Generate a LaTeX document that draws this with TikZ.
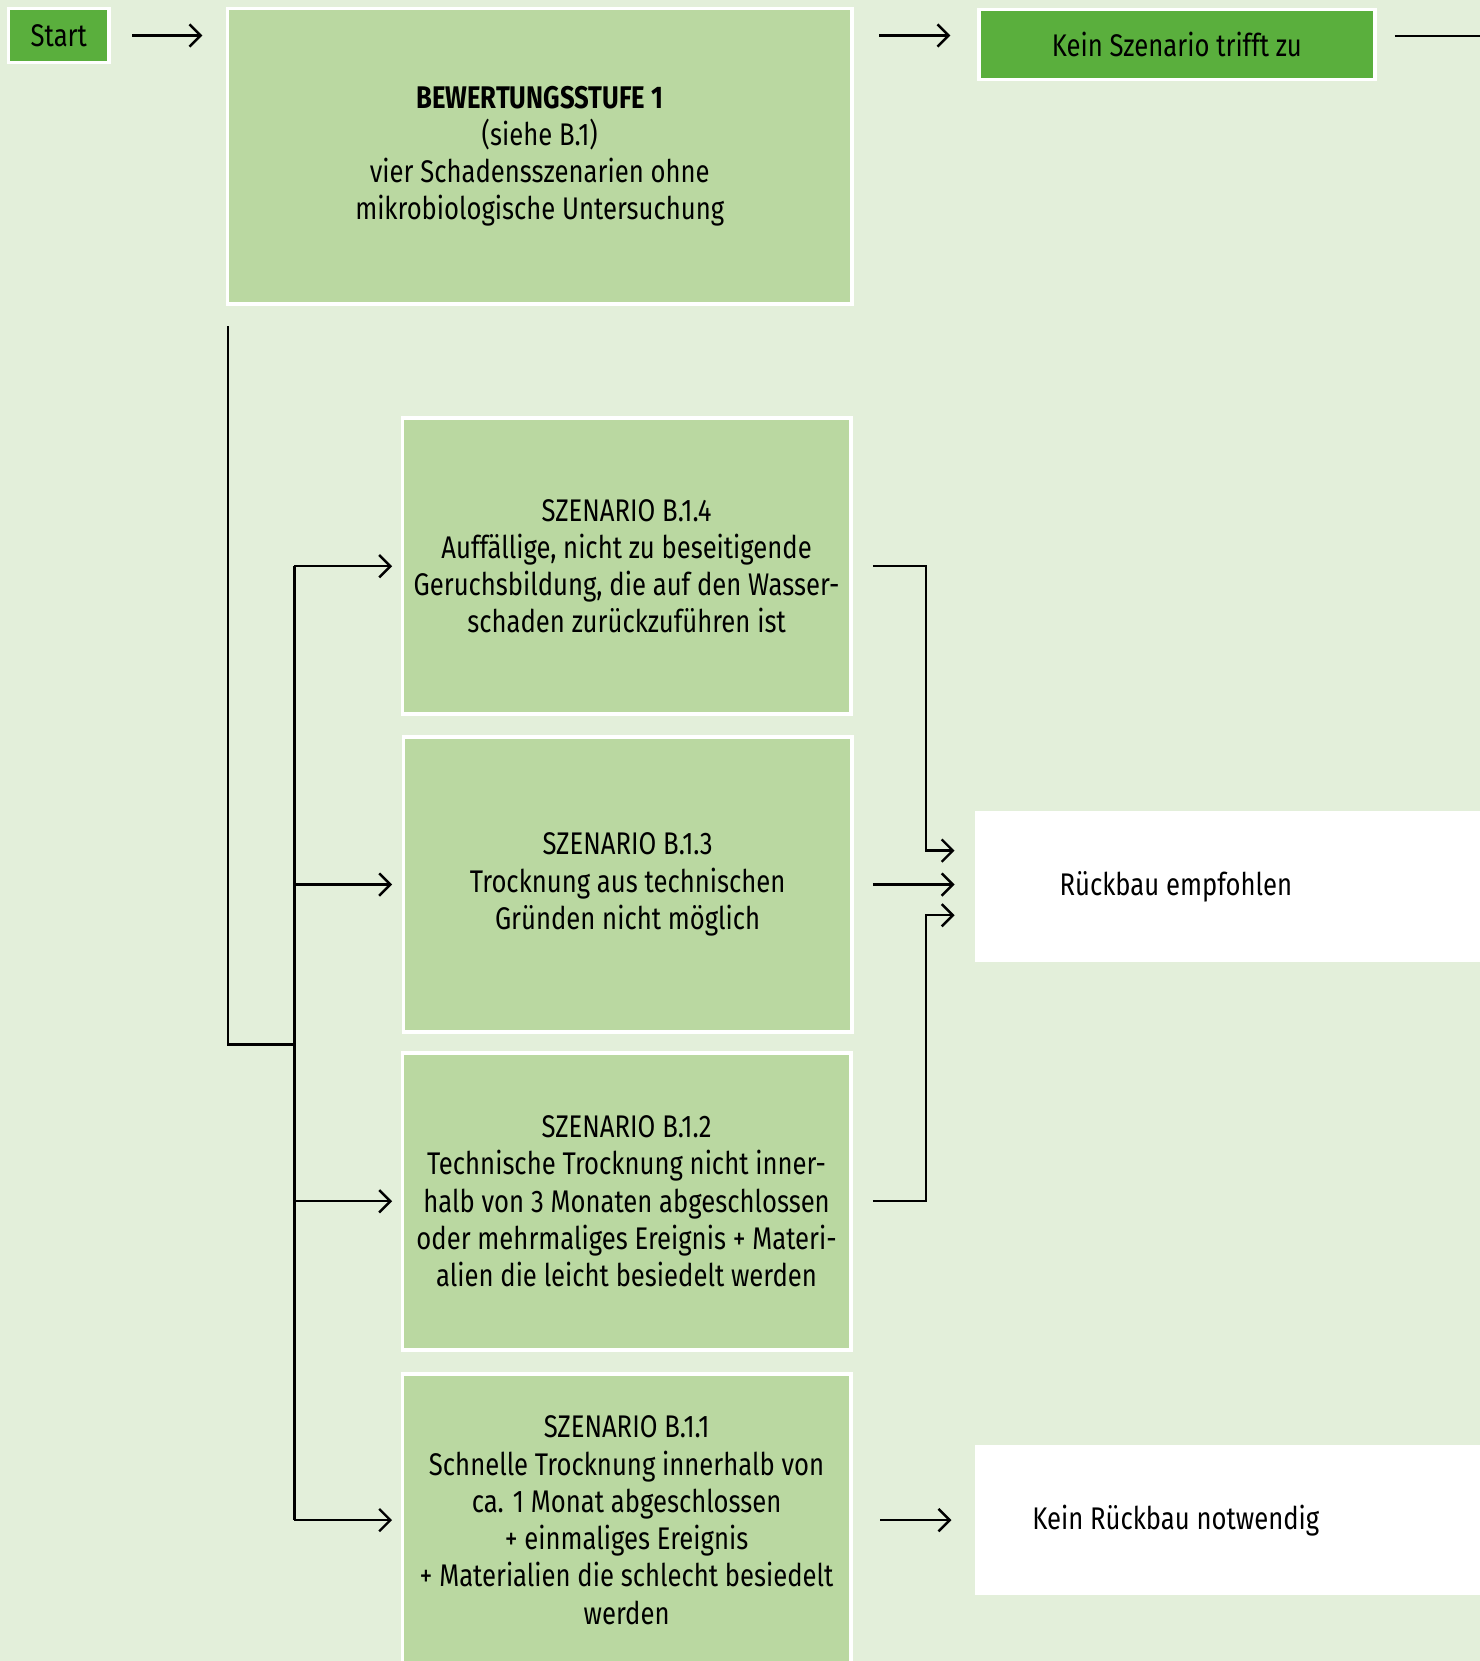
\documentclass[tikz,border=0pt]{standalone}
\usepackage{fontspec}
\setmainfont{Fira Sans}[FakeStretch=0.82]
\usetikzlibrary{arrows.meta}
\definecolor{bgc}{HTML}{E3EFDA}
\definecolor{boxc}{HTML}{BAD8A1}
\definecolor{darkc}{HTML}{5AAF3D}
\tikzset{
  box/.style={draw=white, line width=1pt, fill=boxc, align=center, inner sep=0pt,
    font=\fontsize{8.4}{10}\selectfont},
  darkbox/.style={draw=white, line width=1pt, fill=darkc, align=center, inner sep=0pt,
    font=\fontsize{8.4}{10}\selectfont},
  wbox/.style={fill=white, draw=none, align=center, inner sep=0pt,
    font=\fontsize{8.4}{10}\selectfont},
  wtext/.style={label={[font=\fontsize{8.4}{10}\selectfont, xshift=-0.505cm]center:#1}},
  conn/.style={line width=0.65pt, black},
  arr/.style={conn, -{Straight Barb[length=3pt,width=6pt]}},
}
\begin{document}
\begin{tikzpicture}[x=0.01cm, y=-0.01cm]
\clip (0,0) rectangle (1397,1568);
\fill[bgc] (0,0) rectangle (1397,1568);
% top row
\node[darkbox, minimum width=0.95cm, minimum height=0.51cm] (start) at (55.5,33.5) {Start};
\node[box, minimum width=5.89cm, minimum height=2.79cm] (bew) at (509.5,147.5)
  {\textbf{BEWERTUNGSSTUFE 1}\\(siehe B.1)\\vier Schadensszenarien ohne\\mikrobiologische Untersuchung};
\node[darkbox, minimum width=3.74cm, minimum height=0.66cm] (kein) at (1111,42) {Kein Szenario trifft zu};
\coordinate (topend) at (1397,34);
% scenario boxes
\node[box, minimum width=4.23cm, minimum height=2.79cm] (b14) at (591.5,534.5)
  {SZENARIO B.1.4\\Auffällige, nicht zu beseitigende\\Geruchsbildung, die auf den Wasser-\\schaden zurückzuführen ist};
\node[box, minimum width=4.23cm, minimum height=2.78cm] (b13) at (592.5,835)
  {SZENARIO B.1.3\\Trocknung aus technischen\\Gründen nicht möglich};
\node[box, minimum width=4.23cm, minimum height=2.80cm] (b12) at (591.5,1134)
  {SZENARIO B.1.2\\Technische Trocknung nicht inner-\\halb von 3 Monaten abgeschlossen\\oder mehrmaliges Ereignis + Materi-\\alien die leicht besiedelt werden};
\node[box, minimum width=4.23cm, minimum height=2.76cm] (b11) at (591.5,1435)
  {SZENARIO B.1.1\\Schnelle Trocknung innerhalb von\\ca. 1 Monat abgeschlossen\\+ einmaliges Ereignis\\+ Materialien die schlecht besiedelt\\werden};
% result boxes (run off the right edge; text centred under the "Kein Szenario" box)
\node[wbox, minimum width=4.79cm, minimum height=1.42cm, wtext={Rückbau empfohlen}] (rueck) at (1160.5,837) {};
\node[wbox, minimum width=4.79cm, minimum height=1.42cm, wtext={Kein Rückbau notwendig}] (keinr) at (1160.5,1435) {};
% top connectors
\draw[arr, shorten <=0.20cm, shorten >=0.22cm] (start.east) -- (start.east -| bew.west);
\draw[arr, shorten <=0.24cm, shorten >=0.25cm] (bew.east |- start.east) -- (kein.west |- start.east);
\draw[conn, shorten <=0.17cm] (kein.east |- topend) -- (topend);
% left tree
\coordinate (j1) at (215,986);
\coordinate (j2) at (278,986);
\coordinate (t14) at (278,534.5);
\coordinate (t11) at (278,1435);
\draw[conn, shorten <=0.19cm] (j1 |- bew.south) -- (j1) -- (j2);
\draw[conn] (t14) -- (t11);
\draw[arr, shorten >=0.08cm] (t14) -- (b14.west);
\draw[arr, shorten >=0.09cm] (t14 |- b13.west) -- (b13.west);
\draw[arr, shorten >=0.08cm] (t14 |- b12.west) -- (b12.west);
\draw[arr, shorten >=0.08cm] (t11) -- (b11.west);
% right connectors
\coordinate (r14) at (874,534.5);
\coordinate (r12) at (874,1134);
\draw[arr, shorten >=0.19cm] ([xshift=0.19cm]b14.east) -- (r14) |- ([yshift=0.34cm]rueck.west);
\draw[arr, shorten <=0.18cm, shorten >=0.19cm] (b13.east) -- (b13.east -| rueck.west);
\draw[arr, shorten >=0.19cm] ([xshift=0.19cm]b12.east) -- (r12) |- ([yshift=-0.27cm]rueck.west);
\draw[arr, shorten <=0.26cm, shorten >=0.22cm] (b11.east) -- (b11.east -| keinr.west);
\end{tikzpicture}
\end{document}
